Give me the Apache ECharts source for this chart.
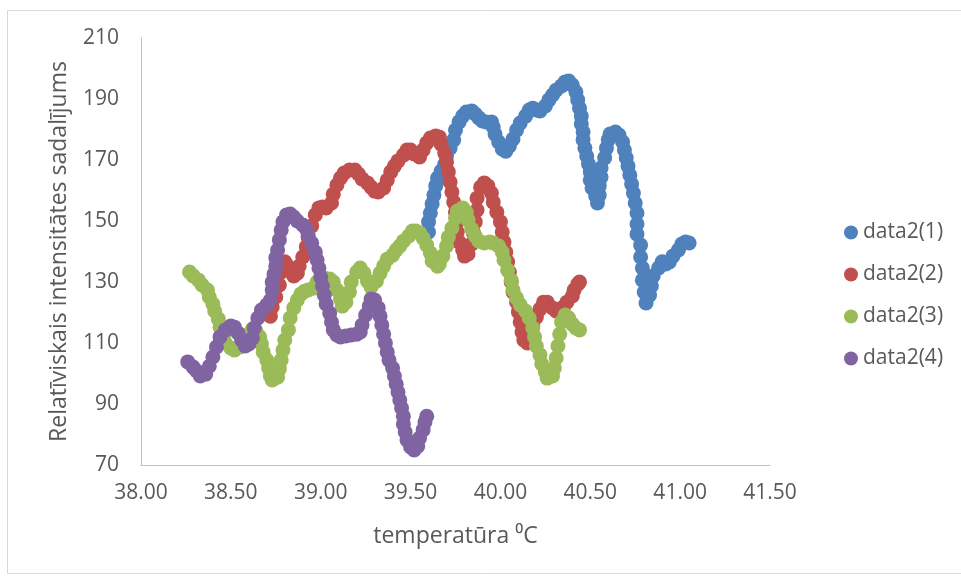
<!DOCTYPE html>
<html>
<head>
<meta charset="utf-8">
<script src="https://cdn.jsdelivr.net/npm/echarts@6/dist/echarts.min.js"></script>
<style>html,body{margin:0;padding:0;background:#fff}#c{width:961px;height:578px}</style>
</head>
<body>
<div id="c"></div>
<script>
const seriesNames = ['data2(1)', 'data2(2)', 'data2(3)', 'data2(4)'];
const seriesColors = ['#4F81BD', '#C0504D', '#9BBB59', '#8064A2'];

const xTicks = [38.0, 38.5, 39.0, 39.5, 40.0, 40.5, 41.0, 41.5];
const yTicks = [70, 90, 110, 130, 150, 170, 190, 210];

const data1 = [
[39.60,146.4],[39.60,149.7],[39.61,152.6],[39.62,155.6],[39.63,158.5],[39.64,161.5],[39.65,164.1],[39.67,166.4],[39.69,168.7],[39.70,171.3],[39.72,173.9],[39.74,176.6],[39.75,179.8],[39.77,182.5],[39.79,184.4],[39.81,185.7],[39.84,186.1],[39.86,185.1],[39.88,183.8],[39.90,182.8],[39.92,182.5],[39.95,182.5],[39.96,180.8],[39.97,178.5],[39.99,175.9],[40.01,173.6],[40.03,172.9],[40.05,174.6],[40.07,176.9],[40.09,179.8],[40.11,182.1],[40.14,184.4],[40.16,186.4],[40.18,187.0],[40.20,186.4],[40.22,186.1],[40.25,187.7],[40.27,189.7],[40.29,191.3],[40.31,192.9],[40.34,194.3],[40.36,195.6],[40.38,195.9],[40.40,194.6],[40.42,192.3],[40.43,189.7],[40.44,187.0],[40.45,184.4],[40.45,181.8],[40.46,179.2],[40.46,176.6],[40.47,173.9],[40.48,171.3],[40.49,168.7],[40.50,166.1],[40.50,163.4],[40.51,160.8],[40.53,158.2],[40.54,155.9],[40.55,158.5],[40.55,161.5],[40.56,164.4],[40.56,167.4],[40.58,170.7],[40.59,173.9],[40.60,176.6],[40.61,178.5],[40.64,179.2],[40.66,178.2],[40.68,175.9],[40.69,173.3],[40.70,170.7],[40.71,168.0],[40.72,165.1],[40.73,162.1],[40.74,159.2],[40.75,155.9],[40.76,152.6],[40.76,149.0],[40.76,145.7],[40.78,142.1],[40.78,138.2],[40.79,134.6],[40.79,130.6],[40.80,126.7],[40.81,123.1],[40.83,125.7],[40.84,128.7],[40.85,132.0],[40.88,134.6],[40.90,136.6],[40.92,135.9],[40.94,136.6],[40.96,138.5],[40.99,140.5],[41.01,142.5],[41.03,143.1],[41.05,142.8]
];

const data2 = [
[38.72,118.8],[38.73,121.8],[38.75,125.1],[38.77,129.0],[38.78,133.3],[38.80,136.6],[38.81,135.6],[38.83,133.6],[38.85,132.0],[38.87,132.9],[38.88,135.2],[38.90,138.2],[38.92,141.5],[38.93,144.7],[38.95,148.4],[38.97,152.0],[38.99,154.3],[39.01,154.6],[39.03,154.3],[39.06,155.9],[39.07,158.8],[39.09,161.8],[39.11,164.1],[39.13,165.7],[39.16,166.7],[39.19,166.7],[39.21,165.4],[39.23,163.8],[39.26,162.5],[39.28,161.1],[39.30,159.8],[39.32,159.5],[39.35,160.8],[39.37,163.4],[39.39,166.1],[39.41,168.0],[39.43,169.7],[39.46,171.6],[39.48,173.3],[39.50,173.3],[39.52,172.0],[39.55,171.0],[39.57,173.3],[39.59,175.6],[39.61,177.2],[39.64,177.9],[39.66,177.5],[39.67,175.2],[39.69,172.3],[39.70,169.3],[39.71,166.1],[39.72,162.8],[39.73,159.5],[39.74,156.2],[39.75,152.9],[39.76,149.7],[39.76,146.4],[39.77,143.1],[39.79,140.5],[39.80,138.5],[39.82,139.2],[39.84,142.5],[39.85,146.1],[39.86,149.7],[39.87,153.6],[39.87,157.5],[39.89,161.1],[39.91,162.5],[39.93,161.5],[39.95,159.2],[39.96,156.2],[39.98,152.9],[40.00,149.7],[40.01,146.4],[40.02,143.1],[40.03,139.8],[40.04,136.6],[40.05,133.3],[40.06,130.0],[40.07,126.7],[40.09,123.4],[40.10,120.2],[40.11,116.9],[40.12,113.6],[40.13,111.0],[40.15,110.0],[40.17,112.3],[40.18,115.6],[40.20,118.5],[40.22,121.1],[40.24,123.4],[40.26,123.4],[40.29,121.5],[40.31,120.5],[40.33,120.8],[40.35,121.8],[40.37,123.4],[40.40,125.4],[40.41,127.4],[40.43,129.3],[40.44,130.0]
];

const data3 = [
[38.27,133.3],[38.29,132.0],[38.32,130.6],[38.34,129.0],[38.37,127.4],[38.38,125.1],[38.40,122.8],[38.41,120.5],[38.43,117.9],[38.44,115.2],[38.46,112.3],[38.47,110.0],[38.50,108.4],[38.52,107.7],[38.55,108.7],[38.57,111.0],[38.60,112.9],[38.62,114.6],[38.64,113.9],[38.66,112.0],[38.67,109.7],[38.68,107.0],[38.70,104.4],[38.71,101.8],[38.72,99.2],[38.73,97.9],[38.76,98.8],[38.77,101.5],[38.78,104.4],[38.79,107.7],[38.80,111.0],[38.82,114.3],[38.83,118.2],[38.85,121.5],[38.87,124.1],[38.89,126.1],[38.91,127.0],[38.93,127.4],[38.96,128.0],[38.98,130.0],[39.00,131.3],[39.02,131.3],[39.05,131.0],[39.07,130.0],[39.09,127.4],[39.11,124.4],[39.12,122.1],[39.14,123.4],[39.16,126.7],[39.17,130.0],[39.20,133.3],[39.22,134.6],[39.24,132.9],[39.26,130.3],[39.28,128.4],[39.31,130.3],[39.33,132.9],[39.35,135.2],[39.37,137.5],[39.40,138.8],[39.42,140.5],[39.44,141.8],[39.46,143.4],[39.49,145.1],[39.51,146.7],[39.53,146.7],[39.55,146.1],[39.57,144.4],[39.59,142.1],[39.61,139.5],[39.62,136.9],[39.65,135.2],[39.66,135.9],[39.68,138.5],[39.70,141.8],[39.71,144.7],[39.73,147.7],[39.75,151.0],[39.76,153.3],[39.79,154.3],[39.81,152.9],[39.82,150.3],[39.84,147.4],[39.86,145.1],[39.88,143.4],[39.91,142.8],[39.94,143.1],[39.96,142.8],[39.99,141.8],[40.01,139.8],[40.02,137.2],[40.04,133.9],[40.06,130.6],[40.07,127.4],[40.09,124.7],[40.11,122.5],[40.14,120.5],[40.16,118.2],[40.18,114.9],[40.19,112.0],[40.20,109.0],[40.22,106.1],[40.23,103.1],[40.25,100.5],[40.26,98.5],[40.29,99.2],[40.30,101.8],[40.31,105.1],[40.32,109.0],[40.33,112.9],[40.34,116.9],[40.36,119.2],[40.38,118.2],[40.40,116.2],[40.42,114.9],[40.44,114.3]
];

const data4 = [
[38.26,103.8],[38.29,102.1],[38.31,100.8],[38.33,99.2],[38.36,99.8],[38.38,102.4],[38.40,105.4],[38.42,108.7],[38.44,112.0],[38.47,114.3],[38.50,115.6],[38.52,115.2],[38.54,113.3],[38.56,111.0],[38.58,109.0],[38.60,109.7],[38.62,111.6],[38.63,114.9],[38.65,118.2],[38.67,120.8],[38.70,122.5],[38.72,124.1],[38.73,127.4],[38.73,130.0],[38.74,132.6],[38.75,135.2],[38.75,137.9],[38.76,140.5],[38.77,143.8],[38.78,147.0],[38.79,149.7],[38.81,152.0],[38.83,152.3],[38.85,151.3],[38.87,150.0],[38.90,148.7],[38.92,147.4],[38.93,145.4],[38.95,142.8],[38.97,139.8],[38.98,137.2],[38.99,134.6],[39.00,131.6],[39.01,128.7],[39.02,125.7],[39.03,122.8],[39.05,119.8],[39.06,116.9],[39.07,114.3],[39.09,112.6],[39.11,112.0],[39.14,112.3],[39.17,112.6],[39.20,112.9],[39.22,113.6],[39.23,115.9],[39.25,119.2],[39.27,122.1],[39.28,124.4],[39.30,124.1],[39.32,121.5],[39.33,118.8],[39.34,115.9],[39.35,112.9],[39.36,110.0],[39.37,107.0],[39.38,104.4],[39.40,101.8],[39.41,99.2],[39.42,96.5],[39.43,93.9],[39.44,91.3],[39.45,88.7],[39.46,86.0],[39.46,83.4],[39.47,80.8],[39.48,78.2],[39.50,75.9],[39.52,74.9],[39.54,76.2],[39.55,78.8],[39.57,81.5],[39.58,84.1],[39.59,86.0]
];

const allData = [data1, data2, data3, data4];
const FONT = "'Open Sans', sans-serif";
const TXT = '#595959';

const chart = echarts.init(document.getElementById('c'), null, {renderer: 'canvas'});
chart.setOption({
  animation: false,
  backgroundColor: '#ffffff',
  graphic: [{
    type: 'rect', left: 5, top: 8, silent: true,
    shape: {width: 1000, height: 563},
    style: {fill: 'none', stroke: '#d9d9d9', lineWidth: 1}
  }],
  grid: {left: 141, right: 191, top: 38, bottom: 113, containLabel: false},
  legend: {
    orient: 'vertical', left: 839, top: 217,
    itemWidth: 14, itemHeight: 14, itemGap: 21, icon: 'circle',
    textStyle: {color: TXT, fontSize: 21, fontFamily: FONT},
    data: seriesNames
  },
  xAxis: {
    type: 'value', min: xTicks[0], max: xTicks[xTicks.length - 1], interval: 0.5,
    name: 'temperatūra ⁰C', nameLocation: 'middle', nameGap: 60,
    nameTextStyle: {color: TXT, fontSize: 23, fontFamily: FONT},
    axisLine: {show: true, lineStyle: {color: '#bfbfbf', width: 1}},
    axisTick: {show: false},
    splitLine: {show: false},
    axisLabel: {color: TXT, fontSize: 21, fontFamily: FONT, margin: 18,
      formatter: v => v.toFixed(2)}
  },
  yAxis: {
    type: 'value', min: yTicks[0], max: yTicks[yTicks.length - 1], interval: 20,
    name: 'Relatīviskais intensitātes sadalījums', nameLocation: 'middle', nameGap: 70,
    nameTextStyle: {color: TXT, fontSize: 23, fontFamily: FONT},
    axisLine: {show: true, lineStyle: {color: '#bfbfbf', width: 1}},
    axisTick: {show: false},
    splitLine: {show: false},
    axisLabel: {color: TXT, fontSize: 21, fontFamily: FONT, margin: 22}
  },
  series: seriesNames.map((n, i) => ({
    name: n, type: 'scatter', data: allData[i], symbol: 'circle', symbolSize: 15,
    itemStyle: {color: seriesColors[i], opacity: 1},
    emphasis: {disabled: true}
  }))
});
</script>
</body>
</html>
